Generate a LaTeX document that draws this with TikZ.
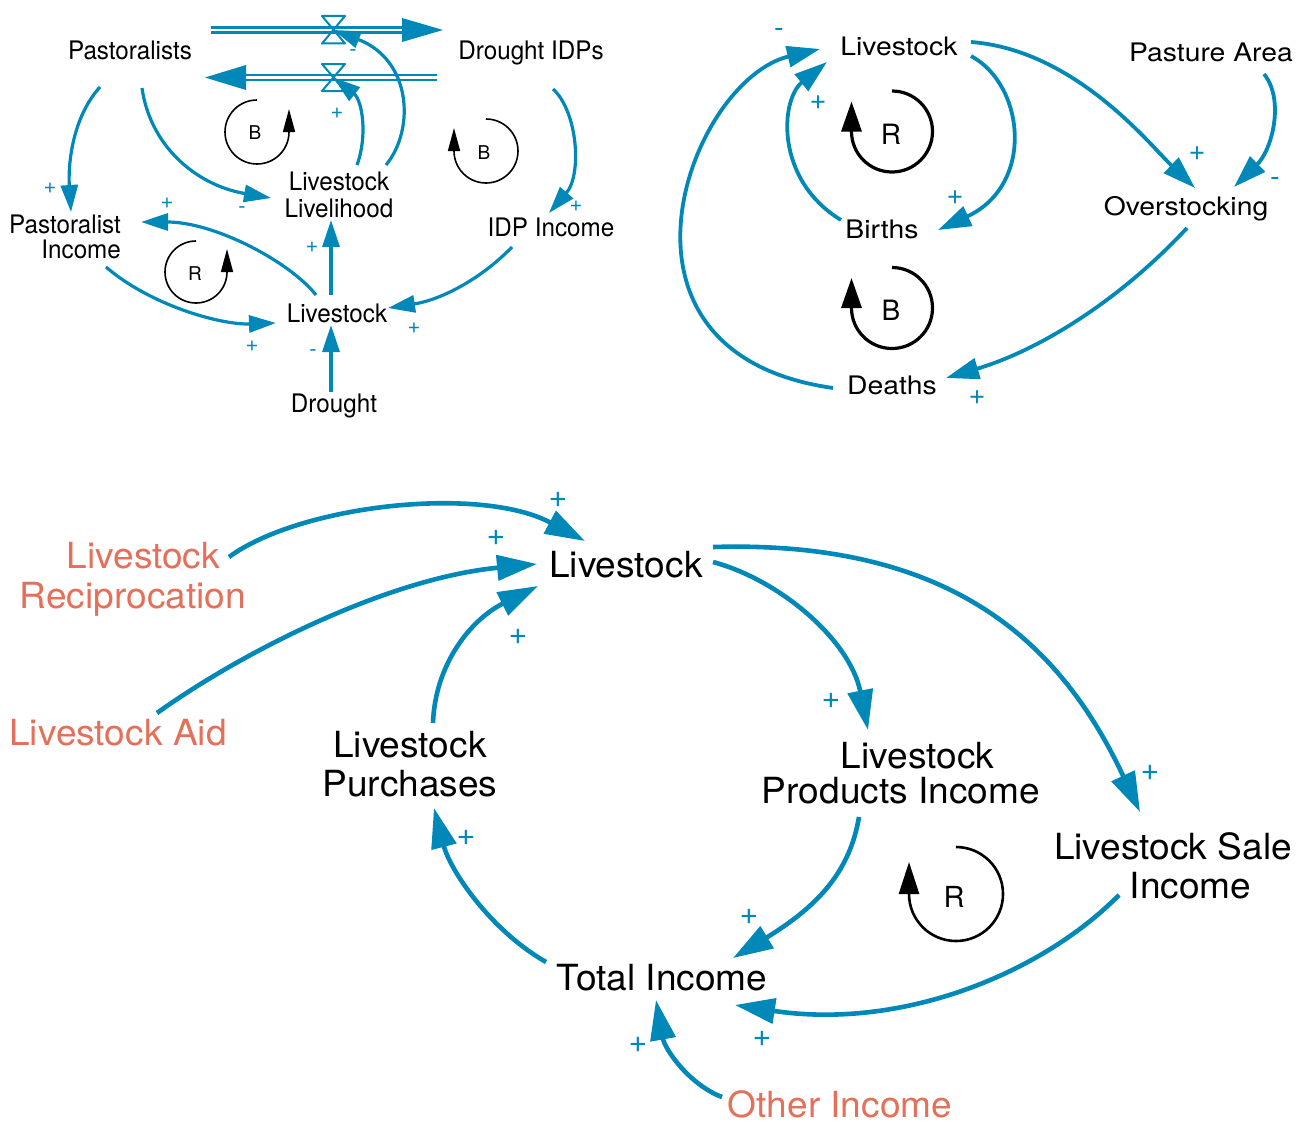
\documentclass[tikz,border=0pt]{standalone}
\usepackage{fontspec}
\setmainfont{TeX Gyre Heros}
\newfontfamily\tlfont[FakeStretch=0.95]{TeX Gyre Heros}
\newfontfamily\trfont[FakeStretch=1.11]{TeX Gyre Heros}
\newfontfamily\btfont[FakeStretch=1.03]{TeX Gyre Heros}
\usetikzlibrary{arrows.meta,calc}
\definecolor{linkblue}{HTML}{0088B8}
\definecolor{exo}{HTML}{E4705A}

\begin{document}
\begin{tikzpicture}[x=1pt,y=-1pt,line join=round,
  every node/.style={inner sep=0pt,outer sep=0pt},
  tlvar/.style={font=\tlfont\fontsize{25.5}{26.5}\selectfont,text height=18.3pt,text depth=0pt},
  tlvarml/.style={font=\tlfont\fontsize{25.5}{26.5}\selectfont,anchor=north},
  trvar/.style={font=\trfont\fontsize{25.5}{26.5}\selectfont,text height=18.3pt,text depth=0pt},
  btvar/.style={font=\btfont\fontsize{36}{39}\selectfont,text height=25.8pt,text depth=0pt},
  btvarml/.style={font=\btfont\fontsize{36}{39}\selectfont,anchor=north},
  exogenous/.style={text=exo},
  tlsign/.style={text=linkblue,font=\fontsize{22}{22}\selectfont},
  trsign/.style={text=linkblue,font=\fontsize{29}{29}\selectfont},
  btsign/.style={text=linkblue,font=\fontsize{32}{32}\selectfont},
  tllink/.style={draw=linkblue,line width=3.2pt,-{Triangle[length=27pt,width=17pt]}},
  trlink/.style={draw=linkblue,line width=3.8pt,-{Triangle[length=33pt,width=21pt]}},
  btlink/.style={draw=linkblue,line width=4.6pt,-{Triangle[length=40pt,width=25pt]}},
  pipe/.style={draw=linkblue,line width=2.5pt,double=white,double distance=2.8pt},
  valve/.style={draw=linkblue,line width=2pt},
  tlloop/.style={draw=black,line width=1.6pt,-{Triangle[length=23pt,width=12pt]}},
  trloop/.style={draw=black,line width=3.2pt,-{Triangle[length=30pt,width=20pt]}},
  btloop/.style={draw=black,line width=2.6pt,-{Triangle[length=32pt,width=20pt]}},
  tlloopname/.style={font=\fontsize{19}{19}\selectfont,text height=13.6pt,text depth=0pt},
  trloopname/.style={font=\fontsize{28}{28}\selectfont,text height=20pt,text depth=0pt},
  btloopname/.style={font=\fontsize{29}{29}\selectfont,text height=20.8pt,text depth=0pt},
]
\fill[white] (0,0) rectangle (1305,1124);
\useasboundingbox (0,0) rectangle (1305,1124);

% ---------- drought and displacement model ----------
\node[tlvar] (pa) at (130,50) {Pastoralists};
\node[tlvar] (dip) at (531,50) {Drought IDPs};
\node[tlvarml,align=right] (pinc) at (65,215) {Pastoralist\\[-1.5pt]Income};
\node[tlvarml,align=center] (ll) at (339,172) {Livestock\\Livelihood};
\node[tlvar] (ipinc) at (551,227) {IDP Income};
\node[tlvar] (lv1) at (337,313) {Livestock};
\node[tlvar] (dr) at (334,403) {Drought};

% stock-and-flow pipes with valves
\coordinate (f1a) at (211,30);
\coordinate (f1b) at (402,30);
\coordinate (f1c) at (443,30);
\coordinate (v1) at (333.5,30);
\coordinate (f2a) at (437,77.5);
\coordinate (f2b) at (246,77.5);
\coordinate (f2c) at (205,77.5);
\coordinate (v2) at (333.5,77.5);
\draw[pipe] (f1a) -- (f1b);
\fill[linkblue] ($(f1b)+(0,-12)$) -- (f1c) -- ($(f1b)+(0,12)$) -- cycle;
\draw[pipe] (f2a) -- (f2b);
\fill[linkblue] ($(f2b)+(0,-12.5)$) -- (f2c) -- ($(f2b)+(0,12.5)$) -- cycle;
\draw[valve] ($(v1)+(-11.5,-14)$) -- ($(v1)+(11.5,-14)$) -- ($(v1)+(-11.5,13.5)$) -- ($(v1)+(11.5,13.5)$) -- cycle;
\draw[valve] ($(v2)+(-11.5,-13.5)$) -- ($(v2)+(11.5,-13.5)$) -- ($(v2)+(-11.5,13.5)$) -- ($(v2)+(11.5,13.5)$) -- cycle;

\draw[tllink] ($(pa)+(-30,37)$) .. controls (72,118) and (68,165) .. ($(pinc.north)+(6,-3)$);
\draw[tllink] ($(pa)+(12,38)$) .. controls (150,145) and (195,185) .. ($(ll.north)+(-68,26)$);
\draw[tllink] ($(lv1)+(-21,-18)$) .. controls (290,262) and (215,222) .. ($(pinc.north)+(76,7)$);
\draw[tllink] ($(pinc.north)+(41,52)$) .. controls (150,305) and (220,325) .. ($(lv1)+(-61,10)$);
\draw[tllink] ($(lv1)+(-6,-18)$) -- ($(ll.north)+(-8,48)$);
\draw[tllink] ($(dr)+(-3,-11)$) -- ($(lv1)+(-6,12)$);
\draw[tllink] ($(ipinc)+(-39,20)$) .. controls (480,280) and (440,300) .. ($(lv1)+(51,-5)$);
\draw[tllink] ($(dip)+(22,39)$) .. controls (578,112) and (582,175) .. ($(ipinc)+(-2,-14)$);
\draw[tllink] ($(ll.north)+(47,-7)$) .. controls (415,130) and (412,60) .. (v1);
\draw[tllink] ($(ll.north)+(18,-7)$) .. controls (368,135) and (362,100) .. (v2);

\node[tlsign] (s1) at (50,188) {+};
\node[tlsign] (s2) at (242,210) {-};
\node[tlsign] (s3) at (167,203) {+};
\node[tlsign] (s4) at (252,346) {+};
\node[tlsign] (s5) at (312,247) {+};
\node[tlsign] (s6) at (313,353) {-};
\node[tlsign] (s7) at (414,328) {+};
\node[tlsign] (s8) at (576,206) {+};
\node[tlsign] (s9) at (353,53) {-};
\node[tlsign] (s10) at (337,113) {+};

\node[tlloopname] (lb1) at (255,133) {B};
\node[tlloopname] (lr1) at (195,274) {R};
\node[tlloopname] (lb2) at (484,153) {B};
\draw[tlloop] (257,100) arc[start angle=90,end angle=360,radius=32pt] -- ++(0,-23);
\draw[tlloop] (196,241) arc[start angle=90,end angle=360,radius=31pt] -- ++(0,-23);
\draw[tlloop] (486,119) arc[start angle=90,end angle=-180,radius=32pt] -- ++(0,-23);

% ---------- herd dynamics model ----------
\node[trvar] (lv2) at (899,46) {Livestock};
\node[trvar] (pas) at (1211,52) {Pasture Area};
\node[trvar] (bi) at (882,229) {Births};
\node[trvar] (ov) at (1186,206) {Overstocking};
\node[trvar] (de) at (892,385) {Deaths};

\draw[trlink] ($(lv2)+(72,10)$) .. controls (1025,85) and (1035,185) .. ($(bi)+(56,1)$);
\draw[trlink] ($(bi)+(-41,-9)$) .. controls (775,180) and (780,100) .. ($(lv2)+(-72,16)$);
\draw[trlink] ($(de)+(-59,3)$) .. controls (586,353) and (690,80) .. ($(lv2)+(-79,3)$);
\draw[trlink] ($(lv2)+(72,-4)$) .. controls (1075,50) and (1150,145) .. ($(ov)+(9,-18)$);
\draw[trlink] ($(pas)+(53,22)$) .. controls (1285,100) and (1272,150) .. ($(ov)+(48,-19)$);
\draw[trlink] ($(ov)+(1,22)$) .. controls (1120,300) and (1040,350) .. ($(de)+(54,-7)$);

\node[trsign] (t1) at (955,198) {+};
\node[trsign] (t2) at (818,103) {+};
\node[trsign] (t3) at (779,33) {-};
\node[trsign] (t4) at (1197,154) {+};
\node[trsign] (t5) at (1275,182) {-};
\node[trsign] (t6) at (977,398) {+};

\node[trloopname] (lr2) at (891,134) {R};
\node[trloopname] (lb3) at (891,310) {B};
\draw[trloop] (892,91) arc[start angle=90,end angle=-180,radius=40.5pt] -- ++(0,-30);
\draw[trloop] (892,267.5) arc[start angle=90,end angle=-180,radius=40.5pt] -- ++(0,-30);

% ---------- income model ----------
\node[btvar] (lv3) at (626,565) {Livestock};
\node[btvarml,exogenous,align=center] (rec) at (133,542) {\hspace*{21pt}Livestock\\[1pt]Reciprocation};
\node[btvar,exogenous] (aid) at (118,733) {Livestock Aid};
\node[btvarml,align=center] (pur) at (410,731) {Livestock\\Purchases};
\node[btvarml,align=center] (lpi) at (901,742) {\hspace*{33pt}Livestock\\[-4pt]Products Income};
\node[btvarml,align=center] (lsi) at (1173,833) {Livestock Sale\\\hspace*{35pt}Income};
\node[btvar] (ti) at (662,978) {Total Income};
\node[btvar,exogenous] (oi) at (840,1105) {Other Income};

\draw[btlink] ($(rec.north)+(96,15)$) .. controls (300,505) and (480,485) .. ($(lv3)+(-41,-24)$);
\draw[btlink] ($(aid)+(39,-20)$) .. controls (245,650) and (390,578) .. ($(lv3)+(-89,-1)$);
\draw[btlink] ($(pur.north)+(23,-8)$) .. controls (435,665) and (470,620) .. ($(lv3)+(-88,21)$);
\draw[btlink] ($(lv3)+(87,-3)$) .. controls (780,580) and (850,640) .. ($(lpi.north)+(-33,-12)$);
\draw[btlink] ($(lv3)+(87,-18)$) .. controls (950,540) and (1060,641) .. ($(lsi.north)+(-33,-21)$);
\draw[btlink] ($(lpi.north)+(-42,75)$) .. controls (850,870) and (820,905) .. ($(ti)+(71,-20)$);
\draw[btlink] ($(lsi.north)+(-54,62)$) .. controls (1040,975) and (900,1030) .. ($(ti)+(73,27)$);
\draw[btlink] ($(ti)+(-116,-16)$) .. controls (490,930) and (450,870) .. ($(pur.north)+(24,77)$);
\draw[btlink] ($(oi)+(-118,-8)$) .. controls (690,1085) and (665,1050) .. ($(ti)+(-6,22)$);

\node[btsign] (u1) at (558,500) {+};
\node[btsign] (u2) at (496,538) {+};
\node[btsign] (u3) at (518,637) {+};
\node[btsign] (u4) at (831,701) {+};
\node[btsign] (u5) at (1150,773) {+};
\node[btsign] (u6) at (749,917) {+};
\node[btsign] (u7) at (762,1039) {+};
\node[btsign] (u8) at (466,838) {+};
\node[btsign] (u9) at (638,1045) {+};

\node[btloopname] (lr3) at (954,897) {R};
\draw[btloop] (956,847) arc[start angle=90,end angle=-180,radius=47pt] -- ++(0,-32);
\end{tikzpicture}
\end{document}
